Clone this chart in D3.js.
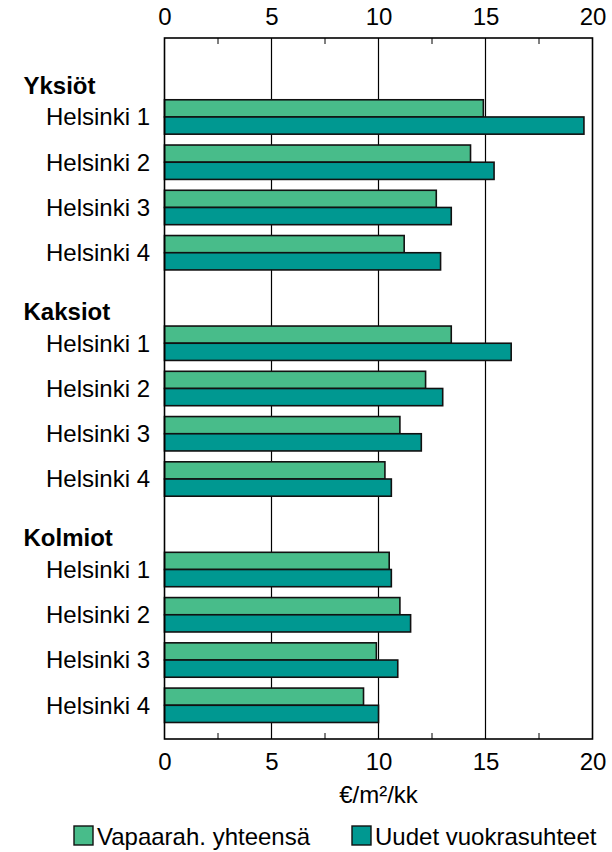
<!DOCTYPE html>
<html>
<head>
<meta charset="utf-8">
<script src="https://cdn.jsdelivr.net/npm/d3@7"></script>
<style>
  html, body { margin: 0; padding: 0; background: #fff; }
  svg { display: block; }
  text { font-family: "Liberation Sans", Arial, sans-serif; fill: #000; }
</style>
</head>
<body>
<svg id="chart" width="612" height="852"></svg>
<script>
// ---- data ----
const groups = ["Yksiöt", "Kaksiot", "Kolmiot"];
const areas = ["Helsinki 1", "Helsinki 2", "Helsinki 3", "Helsinki 4"];
const seriesNames = ["Vapaarah. yhteensä", "Uudet vuokrasuhteet"];
// values in group order (Yksiöt H1..H4, Kaksiot H1..H4, Kolmiot H1..H4)
const vapaarah = [14.9, 14.3, 12.7, 11.2, 13.4, 12.2, 11.0, 10.3, 10.5, 11.0, 9.9, 9.3];
const uudet    = [19.6, 15.4, 13.4, 12.9, 16.2, 13.0, 12.0, 10.6, 10.6, 11.5, 10.9, 10.0];
const xTicks = [0, 5, 10, 15, 20];
const minorTicks = [2.5, 7.5, 12.5, 17.5];
const axisTitle = "€/m²/kk";

(function () {
// ---- build rows ----
const colors = ["#48bc8a", "#009891"];
const rows = [];
const bars = [];
groups.forEach((g, gi) => {
  rows.push({ key: g + "|h", label: g, header: true });
  areas.forEach((a, ai) => {
    const key = g + "|" + a;
    rows.push({ key, label: a, header: false });
    const idx = gi * areas.length + ai;
    bars.push({ row: key, series: seriesNames[0], value: vapaarah[idx] });
    bars.push({ row: key, series: seriesNames[1], value: uudet[idx] });
  });
});

const svg = d3.select("#chart");
const pLeft = 164.5, pRight = 592.5, pTop = 38, pBottom = 739;
const fs = 24;

const x = d3.scaleLinear().domain([0, 20]).range([pLeft, pRight]);
const y = d3.scaleBand().domain(rows.map(r => r.key)).range([pTop, pBottom])
  .paddingInner(0.24).paddingOuter(0.365);
const ySub = d3.scaleBand().domain(seriesNames).range([0, y.bandwidth()]);
const color = d3.scaleOrdinal().domain(seriesNames).range(colors);

// gridlines
svg.append("g").selectAll("line").data(xTicks.filter(t => t > 0 && t < 20)).join("line")
  .attr("x1", d => x(d)).attr("x2", d => x(d))
  .attr("y1", pTop).attr("y2", pBottom)
  .attr("stroke", "#000").attr("stroke-width", 1.2);

// minor ticks
svg.append("g").selectAll("line").data(minorTicks).join("line")
  .attr("x1", d => x(d)).attr("x2", d => x(d))
  .attr("y1", pTop).attr("y2", pTop + 6)
  .attr("stroke", "#000").attr("stroke-width", 1);
svg.append("g").selectAll("line").data(minorTicks).join("line")
  .attr("x1", d => x(d)).attr("x2", d => x(d))
  .attr("y1", pBottom).attr("y2", pBottom - 6)
  .attr("stroke", "#000").attr("stroke-width", 1);

// bars
svg.append("g").selectAll("rect").data(bars).join("rect")
  .attr("x", x(0))
  .attr("y", d => y(d.row) + ySub(d.series))
  .attr("width", d => x(d.value) - x(0))
  .attr("height", ySub.bandwidth())
  .attr("fill", d => color(d.series))
  .attr("stroke", "#111").attr("stroke-width", 1.6);

// frame
svg.append("rect").attr("x", pLeft).attr("y", pTop)
  .attr("width", pRight - pLeft).attr("height", pBottom - pTop)
  .attr("fill", "none").attr("stroke", "#000").attr("stroke-width", 1.6);

// top & bottom axes (labels)
const axTop = svg.append("g").attr("transform", `translate(0,${pTop})`)
  .call(d3.axisTop(x).tickValues(xTicks).tickSize(0).tickPadding(13).tickFormat(d3.format("d")));
const axBot = svg.append("g").attr("transform", `translate(0,${pBottom})`)
  .call(d3.axisBottom(x).tickValues(xTicks).tickSize(0).tickPadding(14).tickFormat(d3.format("d")));
[axTop, axBot].forEach(a => {
  a.select(".domain").remove();
  a.selectAll("text").style("font-size", fs + "px").style("font-family", '"Liberation Sans", Arial, sans-serif').attr("fill", "#000");
});

// axis title
svg.append("text").attr("x", (pLeft + pRight) / 2).attr("y", 803)
  .attr("text-anchor", "middle").style("font-size", fs + "px").text(axisTitle);

// category labels
svg.append("g").selectAll("text").data(rows).join("text")
  .attr("x", d => d.header ? 23.5 : 150)
  .attr("y", d => d.header ? y(d.key) + y.bandwidth() / 2 + 22 : y(d.key) + y.bandwidth() / 2)
  .attr("dy", d => d.header ? 0 : "0.35em")
  .attr("text-anchor", d => d.header ? "start" : "end")
  .style("font-size", fs + "px")
  .style("font-weight", d => d.header ? "bold" : "normal")
  .text(d => d.label);

// legend
const legendX = [74, 352];
const leg = svg.append("g").selectAll("g").data(seriesNames).join("g")
  .attr("transform", (d, i) => `translate(${legendX[i]},826)`);
leg.append("rect").attr("width", 19).attr("height", 19)
  .attr("fill", d => color(d)).attr("stroke", "#111").attr("stroke-width", 1.4);
leg.append("text").attr("x", 23).attr("y", 19)
  .style("font-size", fs + "px").text(d => d);
})();
</script>
</body>
</html>
